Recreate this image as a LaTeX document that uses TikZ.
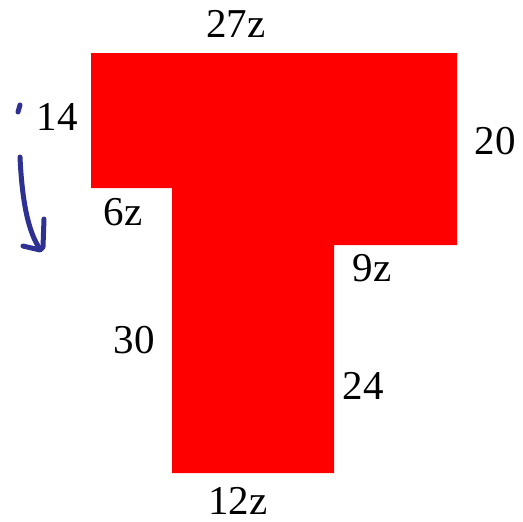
\documentclass[tikz,border=0pt]{standalone}
\usepackage{fontspec}
\setmainfont{Liberation Serif}
\usepackage{xcolor}
\usepackage{tikz}
\definecolor{penblue}{RGB}{46,49,146}

\begin{document}
\begin{tikzpicture}[x=0.5pt,y=-0.5pt,
  lbl/.style={inner sep=0pt,font=\fontsize{20.5}{24}\selectfont},
  pen/.style={penblue,line width=2.5pt,line cap=round,line join=round}]
\useasboundingbox (0,0) rectangle (523,521);
\fill[red] (91,53) -- (457,53) -- (457,245) -- (334,245) -- (334,473)
  -- (172,473) -- (172,188) -- (91,188) -- cycle;
\node[lbl] (top) at (236,24) {27z};
\node[lbl] (left) at (57,117) {14};
\node[lbl] (right) at (495,141) {20};
\node[lbl] (stepw) at (123,212) {6z};
\node[lbl] (ledge) at (372,268) {9z};
\node[lbl] (stem) at (134,340) {30};
\node[lbl] (rstem) at (363,386) {24};
\node[lbl] (bottom) at (238,501) {12z};
% pen marks
\draw[pen] (20,105) -- (18,112);
\draw[pen] (20,157) .. controls (22,200) and (28,232) .. (40,249);
\draw[pen] (44,219) -- (43,247) -- (40,250) -- (23,246);
\end{tikzpicture}
\end{document}
